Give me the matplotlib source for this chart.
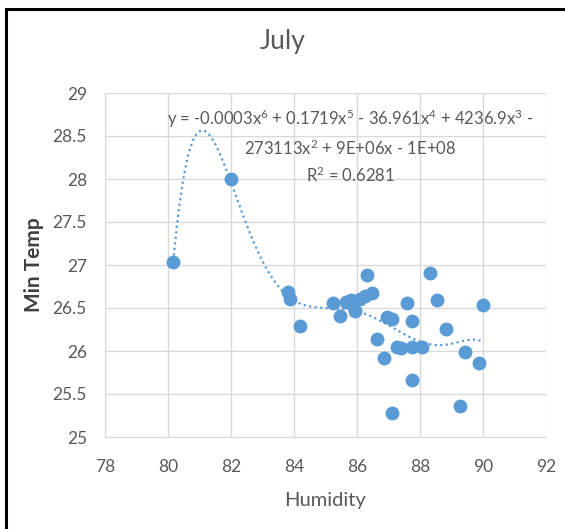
import numpy as np
import matplotlib
matplotlib.use("Agg")
import matplotlib.pyplot as plt
from matplotlib.patches import Rectangle

# July readings
humidity = [80.17, 82.0, 83.8, 83.87, 84.19, 85.25, 85.46, 85.65, 85.8, 85.94,
            86.1, 86.25, 86.31, 86.47, 86.65, 86.86, 86.96, 87.1, 87.1, 87.26,
            87.4, 87.58, 87.74, 87.74, 87.74, 88.05, 88.32, 88.55, 88.83, 89.27,
            89.43, 89.88, 90.0]
min_temp = [27.04, 28.0, 26.69, 26.61, 26.29, 26.56, 26.41, 26.57, 26.59, 26.47,
            26.61, 26.64, 26.88, 26.67, 26.14, 25.92, 26.39, 26.37, 25.28, 26.05,
            26.03, 26.56, 26.35, 26.05, 25.66, 26.05, 26.91, 26.59, 26.26, 25.36,
            25.99, 25.86, 26.53]
x_ticks = [78, 80, 82, 84, 86, 88, 90, 92]
y_ticks = [25, 25.5, 26, 26.5, 27, 27.5, 28, 28.5, 29]
eq_text = ("y = -0.0003x$^6$ + 0.1719x$^5$ - 36.961x$^4$ + 4236.9x$^3$ -\n"
           "273113x$^2$ + 9E+06x - 1E+08\n"
           "R$^2$ = 0.6281")

plt.rcParams["font.family"] = ["Lato", "DejaVu Sans"]
plt.rcParams["mathtext.fontset"] = "custom"
plt.rcParams["mathtext.rm"] = "Lato"
plt.rcParams["mathtext.it"] = "Lato"
blue = "#5B9BD5"
grey = "#595959"

fig = plt.figure(figsize=(5.65, 5.29), dpi=100)
fig.patches.append(Rectangle((6 / 565, -0.1), 1.2, 1 - 9 / 529 + 0.1,
                             transform=fig.transFigure, fill=False,
                             edgecolor="black", linewidth=2.2))
ax = fig.add_axes([105 / 565, 1 - 437 / 529, 441 / 565, 344 / 529])

ax.scatter(humidity, min_temp, s=100, color=blue, zorder=3, linewidths=0)

# 6th order polynomial trendline, like the Excel one
fit = np.polynomial.Polynomial.fit(humidity, min_temp, 6)
xs = np.linspace(min(humidity), max(humidity), 300)
ax.plot(xs, fit(xs), linestyle=(0, (1, 1.5)), color=blue, linewidth=1.6, zorder=2)

ax.set_xlim(78, 92)
ax.set_ylim(25, 29)
ax.set_xticks(x_ticks)
ax.set_yticks(y_ticks)
ax.set_yticklabels([f"{v:g}" for v in y_ticks])
ax.tick_params(length=0, labelsize=12.5, labelcolor=grey)
ax.tick_params(axis="x", pad=16)
ax.tick_params(axis="y", pad=13)
ax.grid(True, color="#D9D9D9", linewidth=1)
ax.set_axisbelow(True)
for side in ["top", "right"]:
    ax.spines[side].set_visible(False)
for side in ["left", "bottom"]:
    ax.spines[side].set_color("#D9D9D9")

ax.set_xlabel("Humidity", fontsize=14.5, color=grey, labelpad=12)
ax.set_ylabel("Min Temp", fontsize=15, color="#404040", fontweight="bold", labelpad=6)
fig.text(0.5, 1 - 42 / 529, "July", ha="center", va="center", fontsize=19, color=grey)

ax.text(85.78, 28.38, eq_text, ha="center", va="center", ma="center",
        fontsize=12, color=grey, linespacing=1.5)

fig.savefig("out.png", dpi=100)
